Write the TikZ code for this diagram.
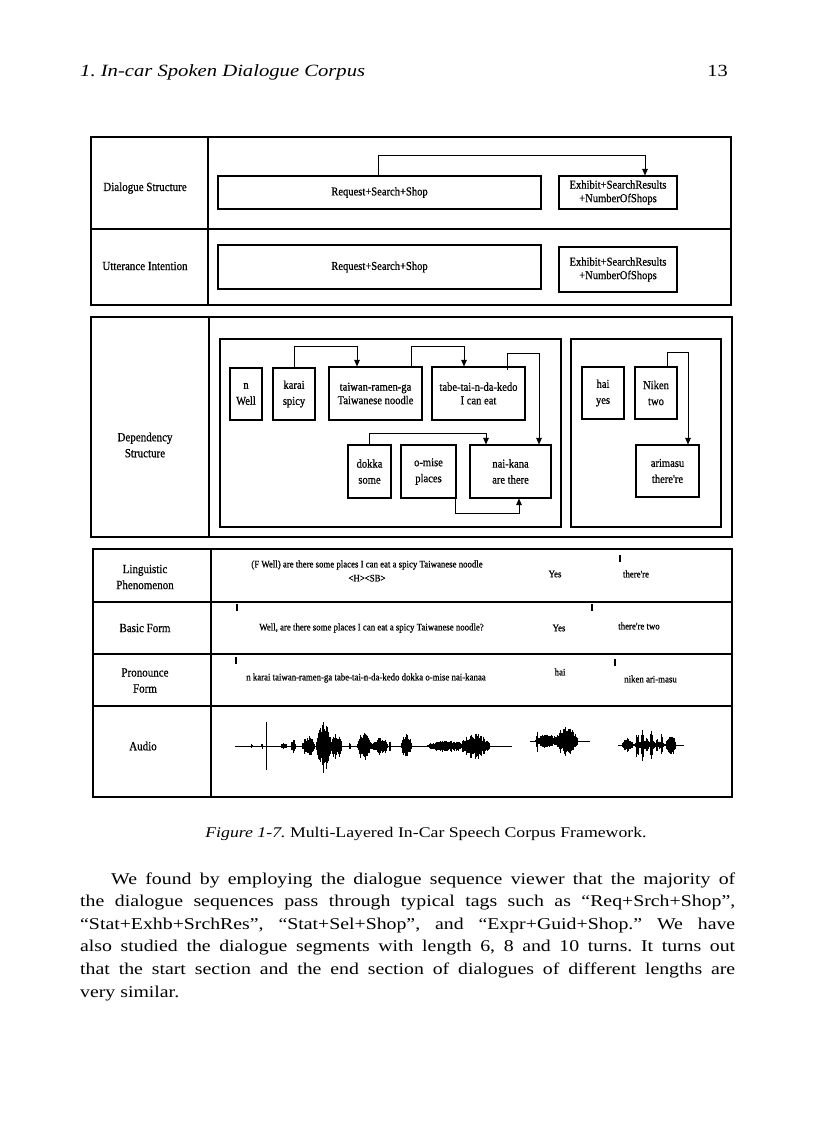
\documentclass[tikz,border=0pt]{standalone}
\usepackage{fontspec}
\setmainfont{Liberation Serif}
\newfontfamily\figfont{Liberation Serif}[FakeStretch=0.88,FakeBold=0.7]
\newfontfamily\bodyfont{Liberation Serif}[FakeStretch=1.2]
\usetikzlibrary{arrows.meta}
\frenchspacing
\newcommand\wblob[4]{%
  \pgfmathtruncatemacro\wn{max(1,(#2-#1)/0.6)}%
  \foreach \i in {0,...,\wn}{%
    \pgfmathsetmacro\wx{#1+(#2-#1)*\i/\wn}%
    \pgfmathsetmacro\wh{#3*(abs(sin(180*\i/\wn)))^0.6*(0.45+0.55*rnd)+0.4}%
    \pgfmathsetmacro\wd{\wh*(0.8+0.4*rnd)}%
    \draw[wave] (\wx,{#4-\wh}) -- (\wx,{#4+\wd});
  }}
\begin{document}
\begin{tikzpicture}[x=1pt,y=-1pt,
  frame/.style={draw, line width=1.4pt, inner sep=0pt},
  grp/.style={draw, line width=1.2pt, inner sep=0pt},
  wbox/.style={draw, line width=1.1pt, inner sep=1pt, align=center, font=\figfont\fontsize{12}{16}\selectfont},
  wboxt/.style={wbox, font=\figfont\fontsize{12}{13.5}\selectfont},
  lab/.style={align=center, inner sep=0pt, font=\figfont\fontsize{12.5}{16}\selectfont},
  small/.style={inner sep=0pt, align=center, font=\figfont\fontsize{10}{14}\selectfont},
  arr/.style={line width=0.9pt, -{Triangle[length=6.5pt,width=5.5pt]}},
  tick/.style={fill=black, inner sep=0pt, minimum width=2.2pt, minimum height=7pt},
  wave/.style={line width=0.6pt},
  body/.style={inner sep=0pt, anchor=base west, font=\bodyfont\fontsize{16.5}{22}\selectfont}]
\useasboundingbox[fill=white] (0,0) rectangle (816,1123);
\pgfmathsetseed{12}

% header
\node[anchor=base west, inner sep=0pt, font=\bodyfont\fontsize{17.2}{20}\selectfont\itshape] (hdr) at (80,77) {1. In-car Spoken Dialogue Corpus};
\node[anchor=base east, inner sep=0pt, font=\bodyfont\fontsize{17}{20}\selectfont] (pg) at (728,77) {13};

% ---------- top section ----------
\node[frame, minimum width=117pt, minimum height=92pt] (dsL) at (149.5,183) {};
\node[frame, minimum width=523pt, minimum height=92pt] (dsR) at (469.5,183) {};
\node[frame, minimum width=117pt, minimum height=76pt] (uiL) at (149.5,267) {};
\node[frame, minimum width=523pt, minimum height=76pt] (uiR) at (469.5,267) {};
\node[lab] (tDS) at (145,188) {Dialogue Structure};
\node[lab] (tUI) at (145,266) {Utterance Intention};

\node[wbox, minimum width=323pt, minimum height=33pt] (dsreq) at (379.5,192.5) {Request+Search+Shop};
\node[wboxt, minimum width=118pt, minimum height=33pt] (dsex) at (618,192.5) {Exhibit+SearchResults\\+NumberOfShops};
\draw[arr] ([xshift=-1.5pt]dsreq.north) -- ++(0,-20) -| ([xshift=27pt]dsex.north);

\node[wbox, minimum width=323pt, minimum height=44pt] (uireq) at (379.5,267) {Request+Search+Shop};
\node[wboxt, minimum width=118pt, minimum height=45pt] (uiex) at (618,269.5) {Exhibit+SearchResults\\+NumberOfShops};

% ---------- dependency section ----------
\node[frame, minimum width=118pt, minimum height=220pt] (depL) at (150,427) {};
\node[frame, minimum width=523pt, minimum height=220pt] (depR) at (470.5,427) {};
\node[lab] (tDep) at (145,445) {Dependency\\Structure};
\node[grp, minimum width=341pt, minimum height=188pt] (grpA) at (390.5,433) {};
\node[grp, minimum width=150pt, minimum height=188pt] (grpB) at (646,433) {};

\node[wbox, minimum width=32pt, minimum height=52pt] (nwell) at (246,394) {n\\Well};
\node[wbox, minimum width=42pt, minimum height=52pt] (karai) at (294,394) {karai\\spicy};
\node[wboxt, minimum width=93pt, minimum height=53pt] (taiwan) at (375.5,393.5) {taiwan-ramen-ga\\Taiwanese noodle};
\node[wboxt, minimum width=93pt, minimum height=53pt] (tabe) at (478.5,393.5) {tabe-tai-n-da-kedo\\I can eat};
\node[wbox, minimum width=43pt, minimum height=53pt] (dokka) at (369.5,471.5) {dokka\\some};
\node[wbox, minimum width=55pt, minimum height=53pt] (omise) at (428.5,471.5) {o-mise\\places};
\node[wbox, minimum width=81pt, minimum height=53pt] (naikana) at (510.5,471.5) {nai-kana\\are there};
\node[wbox, minimum width=42pt, minimum height=52pt] (hai) at (603,393) {hai\\yes};
\node[wbox, minimum width=42pt, minimum height=52pt] (niken) at (656,393) {Niken\\two};
\node[wbox, minimum width=63pt, minimum height=52pt] (arimasu) at (667.5,471) {arimasu\\there're};

\draw[arr] (karai.north) -- ++(0,-21) -| ([xshift=-18.5pt]taiwan.north);
\draw[arr] ([xshift=35.5pt]taiwan.north) -- ++(0,-20) -| ([xshift=-14.5pt]tabe.north);
\draw[arr] ([xshift=28.5pt,yshift=-4pt]tabe.north) -- ++(0,-17) -| ([xshift=28.5pt]naikana.north);
\draw[arr] (dokka.north) -- ++(0,-11) -| ([xshift=-24.5pt]naikana.north);
\draw[arr] ([xshift=-1pt]omise.south east) -- ++(0,15) -| ([xshift=8.5pt]naikana.south);
\draw[arr] ([xshift=11pt]niken.north) -- ++(0,-14) -| ([xshift=20.5pt]arimasu.north);

% ---------- table section ----------
\node[frame, minimum width=118pt, minimum height=53pt] (lpL) at (152,575.5) {};
\node[frame, minimum width=521pt, minimum height=53pt] (lpR) at (471.5,575.5) {};
\node[frame, minimum width=118pt, minimum height=52pt] (bfL) at (152,628) {};
\node[frame, minimum width=521pt, minimum height=52pt] (bfR) at (471.5,628) {};
\node[frame, minimum width=118pt, minimum height=52pt] (pfL) at (152,680) {};
\node[frame, minimum width=521pt, minimum height=52pt] (pfR) at (471.5,680) {};
\node[frame, minimum width=118pt, minimum height=91pt] (auL) at (152,751.5) {};
\node[frame, minimum width=521pt, minimum height=91pt] (auR) at (471.5,751.5) {};

\node[lab] (tLP) at (145,577) {Linguistic\\Phenomenon};
\node[lab] (tBF) at (145,628) {Basic Form};
\node[lab] (tPF) at (145,680.5) {Pronounce\\Form};
\node[lab] (tAU) at (143,746) {Audio};

\node[small] (lp1) at (367,571) {(F Well) are there some places I can eat a spicy Taiwanese noodle\\<H><SB>};
\node[small] (lpyes) at (555,574) {Yes};
\node[tick] (lpt) at (620,558) {};
\node[small] (lpthere) at (636,574) {there're};

\node[tick] (bft1) at (237,607) {};
\node[small] (bf1) at (371.5,628) {Well, are there some places I can eat a spicy Taiwanese noodle?};
\node[small] (bfyes) at (559,628) {Yes};
\node[tick] (bft2) at (592,607) {};
\node[small] (bftwo) at (639,626) {there're two};

\node[tick] (pft1) at (236,660) {};
\node[small] (pf1) at (366,678) {n karai taiwan-ramen-ga tabe-tai-n-da-kedo dokka o-mise nai-kanaa};
\node[small] (pfhai) at (560,672) {hai};
\node[tick] (pft2) at (615,662) {};
\node[small] (pfniken) at (650.5,679) {niken ari-masu};

% audio waveforms
\draw[wave] (235,746) -- (512,746);
\draw[wave] (266,722) -- (266,770);
\wblob{251}{253}{2}{746}
\wblob{261}{263}{2.5}{746}
\wblob{281}{287}{3}{746}
\wblob{291}{296}{6}{746}
\wblob{302}{315}{10}{746}
\wblob{316}{331}{24}{746}
\wblob{330}{342}{12}{746}
\wblob{349}{351}{3}{746}
\wblob{357}{372}{13}{746}
\wblob{372}{388}{8}{746}
\wblob{384}{386}{9}{746}
\wblob{389}{391}{7}{746}
\wblob{401}{412}{12}{746}
\wblob{427}{466}{5}{746}
\wblob{460}{490}{12}{746}

\draw[wave] (530,741) -- (590,741);
\wblob{535}{560}{6}{741}
\wblob{536}{538}{11}{741}
\wblob{555}{578}{14}{741}

\draw[wave] (618,745) -- (684,745);
\wblob{622}{633}{7}{745}
\wblob{633}{666}{4}{745}
\wblob{636}{639}{14}{745}
\wblob{641}{644}{16}{745}
\wblob{646}{648}{13}{745}
\wblob{650}{653}{15}{745}
\wblob{656}{658}{8}{745}
\wblob{661}{663}{15}{745}
\wblob{666}{676}{9}{745}

% caption
\node[anchor=base, inner sep=0pt, font=\bodyfont\fontsize{14.8}{17}\selectfont] (cap) at (426,837) {\textit{Figure 1-7.} Multi-Layered In-Car Speech Corpus Framework.};

% body text
\node[body] (l1) at (111,884) {\makebox[624pt][s]{We found by employing the dialogue sequence viewer that the majority of}};
\node[body] (l2) at (80,906.6) {\makebox[655pt][s]{the dialogue sequences pass through typical tags such as “Req+Srch+Shop”,}};
\node[body] (l3) at (80,929.2) {\makebox[655pt][s]{“Stat+Exhb+SrchRes”, “Stat+Sel+Shop”, and “Expr+Guid+Shop.” We have}};
\node[body] (l4) at (80,951.8) {\makebox[655pt][s]{also studied the dialogue segments with length 6, 8 and 10 turns. It turns out}};
\node[body] (l5) at (80,974.4) {\makebox[655pt][s]{that the start section and the end section of dialogues of different lengths are}};
\node[body] (l6) at (80,997) {very similar.};
\end{tikzpicture}
\end{document}
